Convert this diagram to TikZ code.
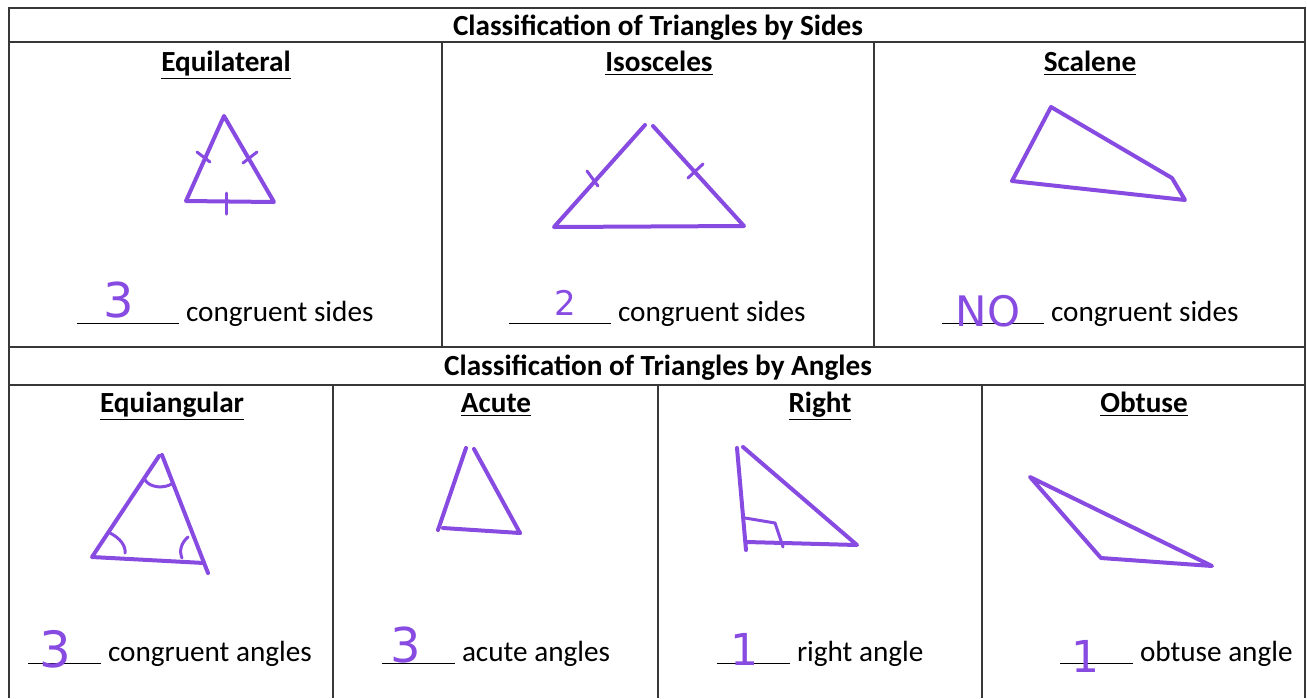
\documentclass[tikz,border=0pt]{standalone}
\usepackage{fontspec}
\setmainfont{Carlito}
\newfontfamily\handfont{DejaVu Sans}
\usetikzlibrary{positioning}
\definecolor{marker}{RGB}{135,75,225}
\definecolor{rulegray}{RGB}{55,55,55}
\newcommand{\blankline}[1]{\rule[-1.5pt]{#1}{0.6pt}}

\begin{document}
\begin{tikzpicture}[
    x=0.5pt, y=-0.5pt,
    font=\fontsize{14.6}{17}\selectfont,
    frame/.style={draw=rulegray, line width=0.75pt},
    head/.style={
        font=\fontsize{14.6}{17}\selectfont\bfseries,
        anchor=base, inner sep=0pt
    },
    answer/.style={anchor=base west, inner sep=0pt},
    hand/.style={text=marker, inner sep=0pt},
    tri/.style={draw=marker, line width=2pt, line cap=round, line join=round},
    tickmark/.style={tri, line width=1.5pt}
]
\useasboundingbox (0,0) rectangle (1307,698);

% Table frame
\draw[frame] (9,698) -- (9,8) -- (1305,8) -- (1305,698);
\draw[frame] (9,42)  -- (1305,42);
\draw[frame] (9,347) -- (1305,347);
\draw[frame] (9,385) -- (1305,385);
\draw[frame] (442,42)  -- (442,347);
\draw[frame] (874,42)  -- (874,347);
\draw[frame] (333,385) -- (333,698);
\draw[frame] (658,385) -- (658,698);
\draw[frame] (982,385) -- (982,698);

% Headers
\node[head] (bySides)  at (658,35)  {Classification of Triangles by Sides};
\node[head] (byAngles) at (658,375) {Classification of Triangles by Angles};

% Kinds by sides
\node[head] (equilat) at (226,71)  {\underline{Equilateral}};
\node[head] (isosc)   at (659,71)  {\underline{Isosceles}};
\node[head] (scalene) at (1090,71) {\underline{Scalene}};

% Kinds by angles
\node[head] (equiang) at (172,412)  {\underline{Equiangular}};
\node[head] (acute)   at (496,412)  {\underline{Acute}};
\node[head] (right)   at (820,412)  {\underline{Right}};
\node[head] (obtuse)  at (1144,412) {\underline{Obtuse}};

% Answer lines
\node[answer] (ansEquilat) at (77,321)  {\blankline{51pt}\ congruent sides};
\node[answer] (ansIsosc)   at (509,321) {\blankline{51pt}\ congruent sides};
\node[answer] (ansScalene) at (942,321) {\blankline{51pt}\ congruent sides};
\node[answer] (ansEquiang) at (28,661)   {\blankline{36.5pt}\ congruent angles};
\node[answer] (ansAcute)   at (382,661)  {\blankline{36.5pt}\ acute angles};
\node[answer] (ansRight)   at (717,661)  {\blankline{36.5pt}\ right angle};
\node[answer] (ansObtuse)  at (1060,661) {\blankline{36.5pt}\ obtuse angle};

% Handwritten answers
\node[hand, font=\handfont\fontsize{24}{24}\selectfont] (numEquilat) at (119,300) {3};
\node[hand, font=\handfont\fontsize{17}{17}\selectfont] (numIsosc)   at (565,303) {2};
\node[hand, font=\handfont\fontsize{21}{21}\selectfont] (numScalene) at (988,311) {NO};
\node[hand, font=\handfont\fontsize{25}{25}\selectfont] (numEquiang) at (55,649)  {3};
\node[hand, font=\handfont\fontsize{24}{24}\selectfont] (numAcute)   at (406,645) {3};
\node[hand, font=\handfont\fontsize{22}{22}\selectfont] (numRight)   at (744,649) {1};
\node[hand, font=\handfont\fontsize{22}{22}\selectfont] (numObtuse)  at (1085,656) {1};

% Equilateral
\draw[tri] (224,116) -- (186,201) -- (274,202) -- cycle;
\draw[tickmark] (197,152) -- (210,162);
\draw[tickmark] (243,163) -- (257,152);
\draw[tickmark] (226,193) -- (226,214);

% Isosceles
\draw[tri] (645,125) -- (554,227) -- (744,226) -- (653,126);
\draw[tickmark] (587,171) -- (598,186);
\draw[tickmark] (688,178) -- (703,164);

% Scalene
\draw[tri] (1051,107) -- (1172,178) -- (1185,200) -- (1012,181) -- cycle;

% Equiangular
\draw[tri] (159,456) -- (92,557) -- (204,563);
\draw[tri] (162,455) -- (208,573);
\draw[tickmark] (145,480) .. controls (150,488) and (165,489) .. (173,483);
\draw[tickmark] (110,533) .. controls (120,538) and (126,546) .. (125,553);
\draw[tickmark] (188,537) .. controls (181,543) and (179,551) .. (182,558);

% Acute
\draw[tri] (466,448) -- (438,530);
\draw[tri] (474,449) -- (520,533);
\draw[tri] (443,528) -- (520,533);

% Right
\draw[tri] (737,448) -- (746,550);
\draw[tri] (743,447) -- (857,545) -- (747,542);
\draw[tickmark] (745,518) -- (775,523) -- (783,547);

% Obtuse
\draw[tri] (1030,477) -- (1101,558) -- (1212,566) -- cycle;

\end{tikzpicture}
\end{document}
